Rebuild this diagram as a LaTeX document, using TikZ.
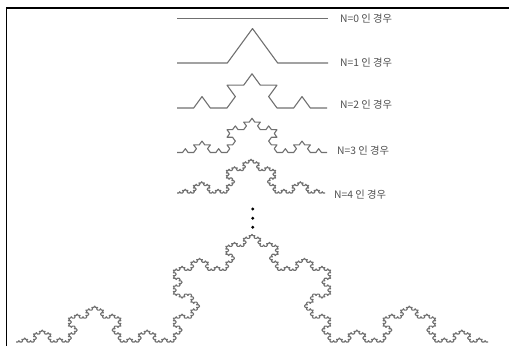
\documentclass[tikz,border=0pt]{standalone}
\usepackage{fontspec}
\newfontfamily\kr{Noto Sans CJK KR}
\definecolor{kochgray}{HTML}{707070}
\definecolor{labelgray}{HTML}{505050}
\newdimen\kx \newdimen\ky \newdimen\klen
\def\kdir{0}
% direction lookup (units of 60 deg); sin values squashed by 0.79
\def\kdef#1#2#3{\expandafter\def\csname kc#1\endcsname{#2}\expandafter\def\csname ks#1\endcsname{#3}}
\kdef{0}{1}{0}
\kdef{1}{0.5}{0.6842}
\kdef{2}{-0.5}{0.6842}
\kdef{3}{-1}{0}
\kdef{4}{-0.5}{-0.6842}
\kdef{5}{0.5}{-0.6842}
\kdef{6}{1}{0}
\kdef{-1}{0.5}{-0.6842}
\kdef{-2}{-0.5}{-0.6842}
\kdef{-3}{-1}{0}
\kdef{-4}{-0.5}{0.6842}
\kdef{-5}{0.5}{0.6842}
\kdef{-6}{1}{0}
\def\kochturn#1{\xdef\kdir{\the\numexpr\kdir+#1\relax}}
\def\kochemit{\global\advance\kx by \csname kc\kdir\endcsname\klen
  \global\advance\ky by \csname ks\kdir\endcsname\klen
  \pgfpathlineto{\pgfqpoint{\kx}{\ky}}}
\def\kochrec#1{\ifnum#1=0 \kochemit\else\expandafter\kochrecB\expandafter{\the\numexpr#1-1\relax}\fi}
\def\kochrecB#1{\kochrec{#1}\kochturn{1}\kochrec{#1}\kochturn{-2}\kochrec{#1}\kochturn{1}\kochrec{#1}}
\def\kochcurve#1#2#3#4{%
  \global\kx=#2pt \global\ky=#3pt
  \pgfmathsetlength\klen{#4/(3^#1)}%
  \gdef\kdir{0}%
  \pgfpathmoveto{\pgfqpoint{\kx}{\ky}}%
  \kochrec{#1}%
  \pgfusepath{stroke}}
\tikzset{
  lbl/.style={anchor=west, inner sep=0pt, font=\kr\fontsize{10.3}{12}\selectfont, text=labelgray},
  dotst/.style={circle, fill=black, inner sep=0pt, minimum size=3.2pt},
  frame/.style={draw=black, line width=1.1pt}
}
\begin{document}
\begin{tikzpicture}[x=1pt,y=1pt]
\useasboundingbox (0,0) rectangle (509,346);
% frame (top and left edges)
\coordinate (fA) at (6.5,0);
\coordinate (fB) at (6.5,338);
\coordinate (fC) at (509,338);
\draw[frame] (fA) -- (fB) -- (fC);
% Koch curves
\begin{scope}
\pgfsetstrokecolor{kochgray}
\pgfsetlinewidth{1.1pt}
\pgfsetroundjoin
\kochcurve{0}{177}{327.5}{151}
\kochcurve{1}{177}{283}{151}
\kochcurve{2}{177}{238}{150}
\kochcurve{3}{177}{193.5}{150}
\kochcurve{4}{177}{153}{148}
\kochcurve{5}{16}{4}{472}
\end{scope}
% labels
\node[lbl] (l0) at (340,327) {N=0 인 경우};
\node[lbl] (l1) at (340,283) {N=1 인 경우};
\node[lbl] (l2) at (340,241) {N=2 인 경우};
\node[lbl] (l3) at (337,195.5) {N=3 인 경우};
\node[lbl] (l4) at (334,151) {N=4 인 경우};
% dots
\node[dotst] (d1) at (252.7,137) {};
\node[dotst] (d2) at (252.7,127.7) {};
\node[dotst] (d3) at (252.7,118.7) {};
\end{tikzpicture}
\end{document}
